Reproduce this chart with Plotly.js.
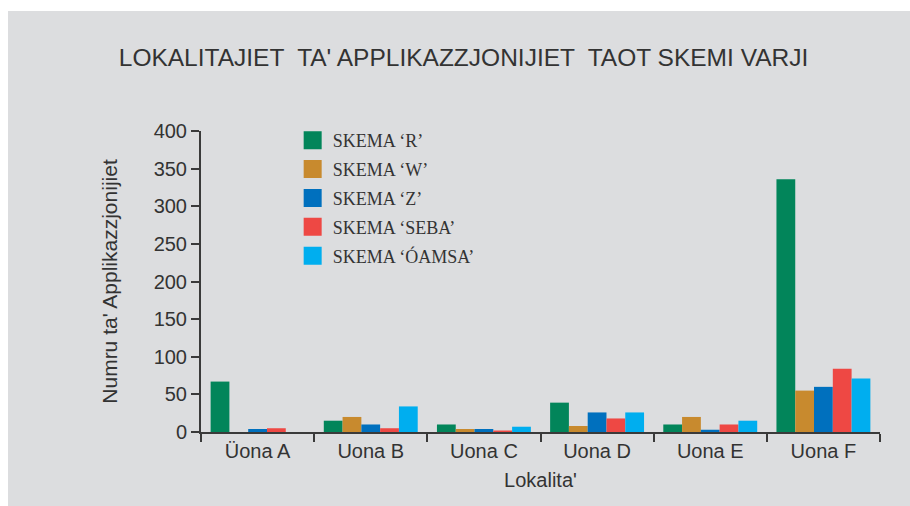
<!DOCTYPE html>
<html>
<head>
<meta charset="utf-8">
<script src="https://cdn.plot.ly/plotly-3.0.1.min.js"></script>
<style>
  html, body { margin: 0; padding: 0; background: #ffffff; width: 910px; height: 506px; overflow: hidden; }
  #chart { position: absolute; left: 8px; top: 11px; width: 902px; height: 495px; }
</style>
</head>
<body>
<div id="chart"></div>
<script>
const categories = ["Üona A", "Uona B", "Uona C", "Uona D", "Uona E", "Uona F"];
const seriesNames = ["SKEMA ‘R’", "SKEMA ‘W’", "SKEMA ‘Z’", "SKEMA ‘SEBA’", "SKEMA ‘ÓAMSA’"];
const skemaR = [67, 15, 10, 39, 10, 336];
const skemaW = [0, 20, 4, 8, 20, 55];
const skemaZ = [4, 10, 4, 26, 3, 60];
const skemaSeba = [5, 5, 2, 18, 10, 84];
const skemaHamsa = [0, 34, 7, 26, 15, 71];
const yTicks = [0, 50, 100, 150, 200, 250, 300, 350, 400];
const colors = ["#02855A", "#C88A2E", "#0070BE", "#EE4844", "#00AEEF"];

const allSeries = [skemaR, skemaW, skemaZ, skemaSeba, skemaHamsa];

const traces = allSeries.map((vals, i) => ({
  type: "bar",
  name: seriesNames[i],
  x: categories,
  y: vals,
  marker: { color: colors[i], line: { width: 0 } },
  showlegend: false,
  hoverinfo: "x+y+name"
}));

// legend entries (larger square swatches)
seriesNames.forEach((n, i) => {
  traces.push({
    type: "scatter",
    mode: "markers",
    name: n,
    x: [null],
    y: [null],
    legendgroup: "g" + i,
    marker: { symbol: "square", size: 16, color: colors[i], line: { color: colors[i], width: 2 } },
    showlegend: true
  });
});

const axisColor = "#3a3a3a";
const textColor = "#333333";

const layout = {
  width: 902,
  height: 495,
  paper_bgcolor: "#DCDDDF",
  plot_bgcolor: "#DCDDDF",
  margin: { l: 193, r: 30, t: 120, b: 74, pad: 0 },
  barmode: "group",
  bargap: 0.17,
  bargroupgap: 0,
  title: {
    text: "LOKALITAJIET  TA' APPLIKAZZJONIJIET  TAOT SKEMI VARJI",
    font: { family: "Liberation Sans, Arial, sans-serif", size: 24.5, color: textColor },
    x: 0.505, xanchor: "center",
    y: 0.907, yanchor: "middle"
  },
  xaxis: {
    type: "category",
    tickson: "boundaries",
    ticks: "outside",
    ticklen: 8,
    tickwidth: 2,
    tickcolor: axisColor,
    showline: true,
    linecolor: axisColor,
    linewidth: 2,
    showgrid: false,
    zeroline: false,
    tickfont: { family: "Liberation Sans, Arial, sans-serif", size: 20, color: textColor },
    title: {
      text: "Lokalita'",
      font: { family: "Liberation Sans, Arial, sans-serif", size: 20, color: textColor },
      standoff: 12
    },
    automargin: false
  },
  yaxis: {
    range: [0, 400],
    tickvals: yTicks,
    ticktext: yTicks.map(String),
    ticks: "outside",
    ticklen: 8,
    tickwidth: 2,
    tickcolor: axisColor,
    showline: true,
    linecolor: axisColor,
    linewidth: 2,
    showgrid: false,
    zeroline: false,
    tickfont: { family: "Liberation Sans, Arial, sans-serif", size: 20, color: textColor },
    title: {
      text: "Numru ta' Applikazzjonijiet",
      font: { family: "Liberation Sans, Arial, sans-serif", size: 21, color: textColor },
      standoff: 30
    },
    automargin: false
  },
  legend: {
    x: 0.135,
    xanchor: "left",
    y: 1.03,
    yanchor: "top",
    bgcolor: "rgba(0,0,0,0)",
    borderwidth: 0,
    tracegroupgap: 2.5,
    font: { family: "Liberation Serif, Times New Roman, serif", size: 18, color: textColor }
  },
  showlegend: true
};

Plotly.newPlot("chart", traces, layout, { displayModeBar: false, staticPlot: true });
</script>
</body>
</html>
